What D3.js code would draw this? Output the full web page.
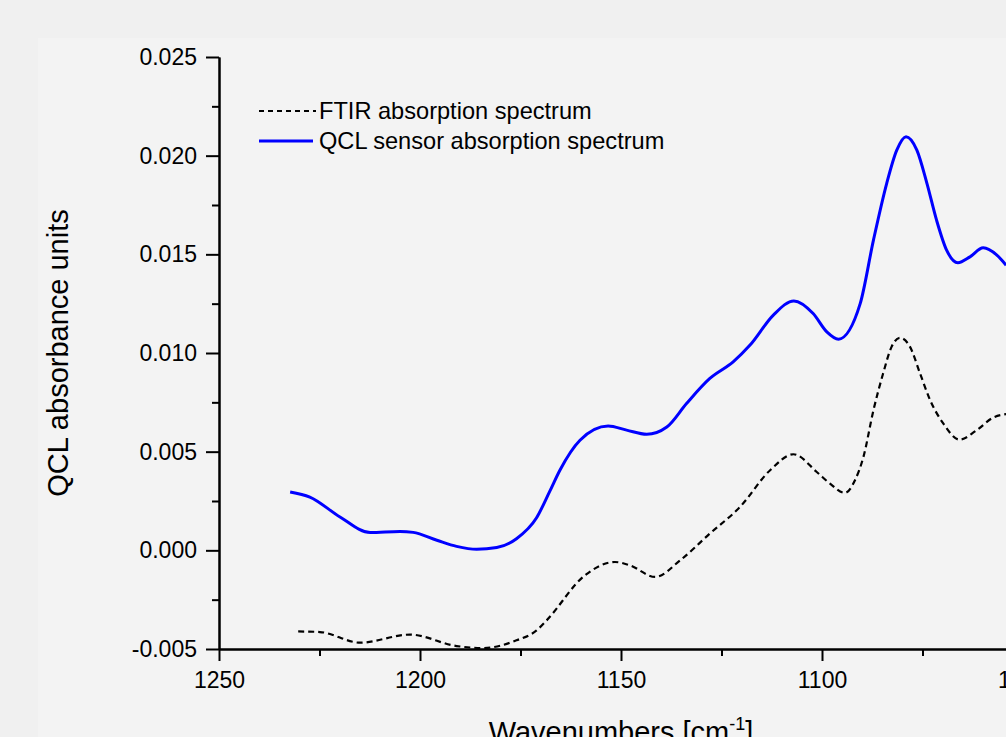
<!DOCTYPE html>
<html lang="en">
<head>
	<title>QCL absorbance</title>
	<script type="text/javascript" src="https://d3js.org/d3.v7.min.js"></script>
	<style>
		body { margin: 0; background: #f0f0f0; font-family: "Liberation Sans", Arial, sans-serif; }
		svg { display: block; }
		.axis path, .axis line { stroke: #000; stroke-width: 2; }
		.axis text { font-size: 23px; fill: #000; font-family: "Liberation Sans", Arial, sans-serif; }
	</style>
</head>
<body>
	<div id="chart"></div>

	<script type="text/javascript">

		// wavenumbers [cm-1] and absorbance
		var qclWave = [1232.3, 1227.4, 1219.9, 1212.4, 1205.0, 1201.7, 1195.8, 1190.9, 1185.9, 1180.9,
			1176.0, 1171.0, 1167.7, 1165.2, 1160.2, 1153.2, 1148.6, 1143.6, 1138.6, 1133.7,
			1127.9, 1122.1, 1117.9, 1112.1, 1107.0, 1102.2, 1098.8, 1095.9, 1090.5,
			1087.2, 1083.9, 1081.4, 1079.1, 1076.4, 1073.9, 1071.5, 1069.0, 1066.2, 1063.2,
			1059.9, 1056.5, 1054.2];
		var qclAbs = [0.00296, 0.00270, 0.00169, 0.00090, 0.00096, 0.00091, 0.00051, 0.00020, 0.00005, 0.00014,
			0.00059, 0.00165, 0.00300, 0.00406, 0.00558, 0.00630, 0.00609, 0.00588, 0.00625, 0.00744,
			0.00871, 0.00955, 0.01040, 0.01192, 0.01264, 0.01200, 0.01107, 0.01070, 0.01250,
			0.01572, 0.01860, 0.02028, 0.02096, 0.02028, 0.01860, 0.01673, 0.01521, 0.01457, 0.01487,
			0.01533, 0.01496, 0.01445];

		var ftirWave = [1230.3, 1224.9, 1214.9, 1202.5, 1190.9, 1184.3, 1176.0, 1171.0, 1168.5, 1159.0,
			1151.5, 1147.8, 1141.5, 1135.3, 1127.9, 1120.4, 1112.9, 1107.1, 1101.3, 1098.0,
			1094.3, 1091.8, 1089.7, 1087.2, 1084.8, 1082.7, 1080.6, 1078.1, 1075.6, 1073.1,
			1069.8, 1065.8, 1061.5, 1057.4, 1054.2];
		var ftirAbs = [-0.00411, -0.00414, -0.00468, -0.00427, -0.00485, -0.00495, -0.00456, -0.00406, -0.00355, -0.00127,
			-0.00059, -0.00076, -0.00135, -0.00051, 0.00085, 0.00220, 0.00406, 0.00487, 0.00397, 0.00338,
			0.00291, 0.00355, 0.00473, 0.00710, 0.00896, 0.01031, 0.01077, 0.01031, 0.00896, 0.00761,
			0.00642, 0.00561, 0.00609, 0.00673, 0.00690];

		var xTicks = [1250, 1200, 1150, 1100, 1050],
		    xTickLabels = ["1250", "1200", "1150", "1100", "1050"],
		    xMinor = [1225, 1175, 1125, 1075];
		var yTicks = [-0.005, 0, 0.005, 0.010, 0.015, 0.020, 0.025],
		    yTickLabels = ["-0.005", "0.000", "0.005", "0.010", "0.015", "0.020", "0.025"],
		    yMinor = [-0.0025, 0.0025, 0.0075, 0.0125, 0.0175, 0.0225];

		var seriesNames = ["FTIR absorption spectrum", "QCL sensor absorption spectrum"];

		var W = 1006, H = 737;
		var m = {left: 219, top: 57},
		    w = 804,
		    h = 592;

		var svg = d3.select("#chart")
			.append("svg")
			.attr("width", W)
			.attr("height", H);

		// lighter panel
		svg.append("rect")
			.attr("x", 38).attr("y", 38)
			.attr("width", W).attr("height", H)
			.attr("fill", "#f3f3f3");

		var g = svg.append("g").attr("transform", "translate(" + m.left + "," + m.top + ")");

		var x = d3.scaleLinear().domain([1250, 1050]).range([0, w]);
		var y = d3.scaleLinear().domain([-0.005, 0.025]).range([h, 0]);

		// minor ticks first, then main axes on top
		g.append("g").attr("class", "axis")
			.attr("transform", "translate(0," + h + ")")
			.call(d3.axisBottom(x).tickValues(xMinor).tickSize(7).tickSizeOuter(0).tickFormat(""));
		g.append("g").attr("class", "axis")
			.call(d3.axisLeft(y).tickValues(yMinor).tickSize(7).tickSizeOuter(0).tickFormat(""));

		g.append("g").attr("class", "axis")
			.attr("transform", "translate(0," + h + ")")
			.call(d3.axisBottom(x).tickValues(xTicks).tickSize(12).tickSizeOuter(0).tickPadding(11)
				.tickFormat(function(d, i) { return xTickLabels[i]; }));
		g.append("g").attr("class", "axis")
			.call(d3.axisLeft(y).tickValues(yTicks).tickSize(13).tickSizeOuter(0).tickPadding(9)
				.tickFormat(function(d, i) { return yTickLabels[i]; }));

		// curves
		var line = d3.line()
			.x(function(d) { return x(d[0]); })
			.y(function(d) { return y(d[1]); })
			.curve(d3.curveMonotoneX);

		var ftir = d3.zip(ftirWave, ftirAbs),
		    qcl = d3.zip(qclWave, qclAbs);

		g.append("path")
			.datum(ftir)
			.attr("d", line)
			.attr("fill", "none")
			.attr("stroke", "#000")
			.attr("stroke-width", 2.2)
			.attr("stroke-dasharray", "6,4");

		g.append("path")
			.datum(qcl)
			.attr("d", line)
			.attr("fill", "none")
			.attr("stroke", "#0000ff")
			.attr("stroke-width", 3);

		// legend
		var legend = svg.append("g").attr("transform", "translate(259,111)");
		legend.append("line")
			.attr("x1", 0).attr("x2", 57).attr("y1", 0).attr("y2", 0)
			.attr("stroke", "#000").attr("stroke-width", 2).attr("stroke-dasharray", "5,4");
		legend.append("line")
			.attr("x1", 0).attr("x2", 54).attr("y1", 30).attr("y2", 30)
			.attr("stroke", "#0000ff").attr("stroke-width", 3);
		legend.selectAll("text")
			.data(seriesNames)
			.enter()
			.append("text")
			.attr("x", 60)
			.attr("y", function(d, i) { return i * 30 + 8; })
			.attr("font-size", "23.6px")
			.text(function(d) { return d; });

		// axis titles
		svg.append("text")
			.attr("transform", "translate(68," + (m.top + h / 2) + ") rotate(-90)")
			.attr("text-anchor", "middle")
			.attr("font-size", "29px")
			.text("QCL absorbance units");

		var xt = svg.append("text")
			.attr("x", m.left + w / 2)
			.attr("y", 742)
			.attr("text-anchor", "middle")
			.attr("font-size", "29px");
		xt.append("tspan").text("Wavenumbers [cm");
		xt.append("tspan").attr("font-size", "18px").attr("dy", -12).text("-1");
		xt.append("tspan").attr("dy", 12).text("]");

	</script>
</body>
</html>
